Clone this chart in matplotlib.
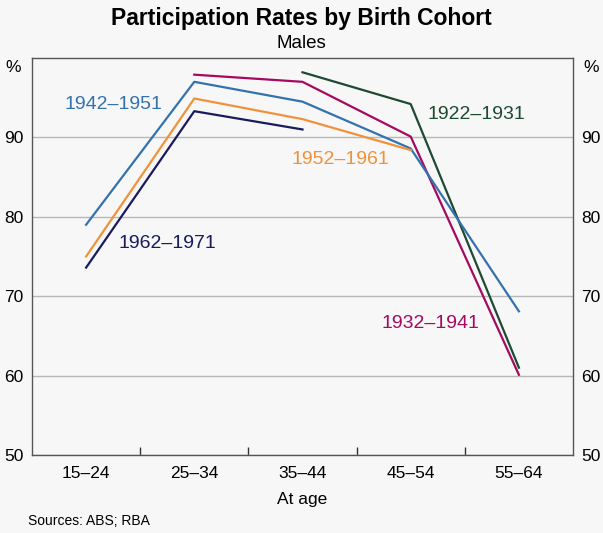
import matplotlib
matplotlib.use("Agg")
import matplotlib.pyplot as plt
import numpy as np

plt.rcParams['font.family'] = ['Liberation Sans', 'DejaVu Sans']

ages = ["15–24", "25–34", "35–44", "45–54", "55–64"]
nan = np.nan
c1922 = [nan, nan, 98.2, 94.2, 61.0]
c1932 = [nan, 97.9, 97.0, 90.1, 60.1]
c1942 = [79.0, 97.0, 94.5, 88.6, 68.1]
c1952 = [75.0, 94.9, 92.3, 88.4, nan]
c1962 = [73.6, 93.3, 91.0, nan, nan]

series = [
    ("1922–1931", c1922, "#1c4a33", (3.61, 92.9)),
    ("1932–1941", c1932, "#a50a5f", (3.18, 66.6)),
    ("1942–1951", c1942, "#3472ae", (0.25, 94.1)),
    ("1952–1961", c1952, "#f0923a", (2.35, 87.2)),
    ("1962–1971", c1962, "#1a1a5c", (0.75, 76.7)),
]

bg = "#f7f7f7"
fig = plt.figure(figsize=(6.03, 5.33), dpi=100, facecolor=bg)
ax = fig.add_axes([32 / 603, 78 / 533, 541 / 603, 397 / 533], facecolor=bg)

x = np.arange(len(ages))
for name, vals, col, (lx, ly) in series:
    ax.plot(x, vals, color=col, lw=1.6)
    ax.text(lx, ly, name, color=col, fontsize=14, ha="center", va="center")

ax.set_xlim(-0.5, 4.5)
ax.set_ylim(50, 100)
ax.set_yticks([50, 60, 70, 80, 90])
ax.grid(axis="y", color="#b8b8b8", lw=1)
ax.set_axisbelow(True)
ax.tick_params(axis="y", length=0, labelsize=12.5, pad=6, right=True, labelright=True)
# "%" unit labels just below the top of the frame, both sides
ax.text(-0.02, 98.8, "%", transform=ax.get_yaxis_transform(), ha="right", va="center", fontsize=12.5)
ax.text(1.02, 98.8, "%", transform=ax.get_yaxis_transform(), ha="left", va="center", fontsize=12.5)
ax.set_xticks(x)
ax.set_xticklabels(ages)
ax.set_xticks([0.5, 1.5, 2.5, 3.5], minor=True)
ax.tick_params(axis="x", which="major", length=0, labelsize=12.5, pad=8)
ax.tick_params(axis="x", which="minor", direction="in", length=6, width=1, color="#333333")
for s in ax.spines.values():
    s.set_color("#555555")
    s.set_linewidth(1)
ax.set_xlabel("At age", fontsize=12.5, labelpad=8)

fig.text(0.5, 1 - 18 / 533, "Participation Rates by Birth Cohort", ha="center", va="center",
         fontsize=16.5, fontweight="bold")
fig.text(0.5, 1 - 43 / 533, "Males", ha="center", va="center", fontsize=13.5)
fig.text(28 / 603, 1 - 521 / 533, "Sources: ABS; RBA", ha="left", va="center", fontsize=10)

fig.savefig("out.png", dpi=100, facecolor=bg)
